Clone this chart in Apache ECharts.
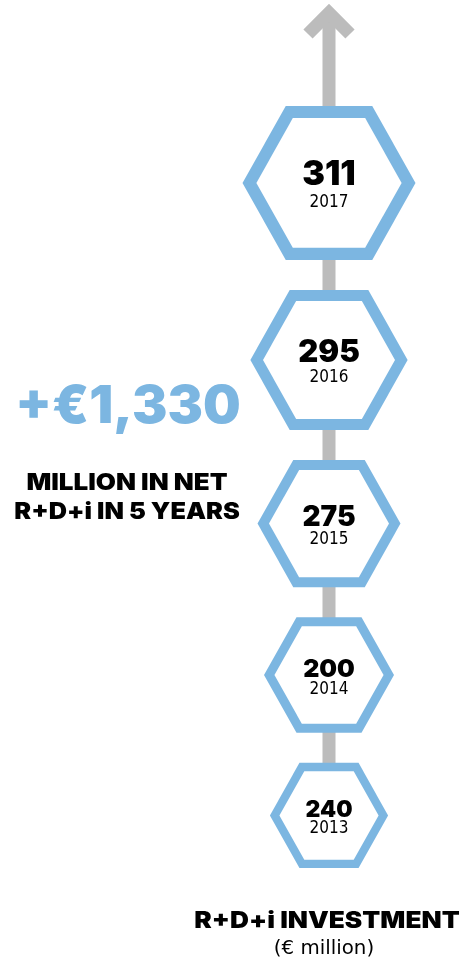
<!DOCTYPE html>
<html>
<head>
<meta charset="utf-8">
<script src="https://cdn.jsdelivr.net/npm/echarts@6/dist/echarts.min.js"></script>
<style>
  html, body { margin: 0; padding: 0; background: #fff; }
  #main { width: 469px; height: 973px; }
</style>
</head>
<body>
<div id="main"></div>
<script>
// data (top to bottom)
var years = ["2017", "2016", "2015", "2014", "2013"];
var investment = [311, 295, 275, 200, 240];
var totalLabel = "+€1,330";
var headline = ["MILLION IN NET", "R+D+i IN 5 YEARS"];
var chartTitle = "R+D+i INVESTMENT";
var unitLabel = "(€ million)";

var BLUE = "#7cb6e1";
var GREY = "#bcbcbc";
var FONT_BOLD = "Inter, Lato, 'Open Sans', sans-serif";
var FONT_NARROW = "'Liberation Sans Narrow', 'DejaVu Sans Condensed', Roboto, sans-serif";

// layout: each hexagon ~10% smaller than the one above, stacked with a fixed gap
var axisX = 329;
var layout = [];
(function () {
  var r = 86.5, top = 106, gap = 30;
  for (var i = 0; i < years.length; i++) {
    var hh = r * 0.89;
    layout.push({ r: r, hh: hh, cy: top + hh });
    top += hh * 2 + gap;
    r = r / 1.1;
  }
})();

function hexPoints(cx, cy, r, a, hh) {
  return [[cx - r, cy], [cx - a, cy - hh], [cx + a, cy - hh],
          [cx + r, cy], [cx + a, cy + hh], [cx - a, cy + hh]];
}

// centred text, stretched a little to match the wide display face
function label(text, x, y, font, fill, sx) {
  return {
    type: "text", x: x, y: y, scaleX: sx || 1,
    style: { text: text, x: 0, y: 0, textAlign: "center", textVerticalAlign: "middle",
             font: font, fill: fill }
  };
}

let myChart = echarts.init(document.getElementById("main"));

let option = {
  animation: false,
  grid: { left: 0, right: 0, top: 0, bottom: 0 },
  xAxis: { type: "value", min: 0, max: 469, show: false },
  yAxis: { type: "value", min: 0, max: 973, inverse: true, show: false },
  graphic: [
    label(totalLabel, 128, 407, "900 52px " + FONT_BOLD, BLUE, 1.02),
    label(headline[0], 127, 483.5, "900 23px " + FONT_BOLD, "#000", 1.13),
    label(headline[1], 127, 512.5, "900 23px " + FONT_BOLD, "#000", 1.1),
    label(chartTitle, 327, 921.5, "900 23px " + FONT_BOLD, "#000", 1.14),
    label(unitLabel, 324, 949, "20px " + FONT_NARROW, "#000", 1.1)
  ],
  series: [
    {
      // grey arrow running up behind the hexagons
      type: "custom",
      silent: true,
      z: 1,
      data: [[0]],
      renderItem: function (params, api) {
        var bottom = api.coord([axisX, layout[layout.length - 1].cy]);
        var tip = api.coord([axisX, 13]);
        var wingL = api.coord([axisX - 21, 34]);
        var wingR = api.coord([axisX + 21, 34]);
        return {
          type: "group",
          children: [
            { type: "line", shape: { x1: bottom[0], y1: bottom[1], x2: tip[0], y2: tip[1] },
              style: { stroke: GREY, lineWidth: 13 } },
            { type: "polyline", shape: { points: [wingL, tip, wingR] },
              style: { stroke: GREY, lineWidth: 13, fill: null, lineJoin: "miter" } }
          ]
        };
      }
    },
    {
      type: "custom",
      z: 2,
      data: investment.map(function (v, i) { return [i, v]; }),
      renderItem: function (params, api) {
        var i = api.value(0);
        var L = layout[i];
        var c = api.coord([axisX, L.cy]);
        var r = L.r, hh = L.hh, a = r * 0.5;
        var w = r * 0.14;
        var sinPhi = hh / Math.sqrt(hh * hh + (r - a) * (r - a));
        var rIn = r - w / sinPhi;
        var hhIn = hh - w;
        var aIn = rIn - hhIn * (r - a) / hh;
        return {
          type: "group",
          children: [
            { type: "polygon", shape: { points: hexPoints(c[0], c[1], r, a, hh) },
              style: { fill: BLUE } },
            { type: "polygon", shape: { points: hexPoints(c[0], c[1], rIn, aIn, hhIn) },
              style: { fill: "#fff" } },
            { type: "text",
              style: { text: String(api.value(1)), x: c[0], y: c[1] - r * 0.09,
                       textAlign: "center", textVerticalAlign: "middle",
                       font: "900 " + Math.round(r * 0.39) + "px " + FONT_BOLD, fill: "#000" } },
            { type: "text",
              style: { text: years[i], x: c[0], y: c[1] + r * 0.23,
                       textAlign: "center", textVerticalAlign: "middle",
                       font: "17px " + FONT_NARROW, fill: "#000" } }
          ]
        };
      }
    }
  ]
};

myChart.setOption(option);
</script>
</body>
</html>
